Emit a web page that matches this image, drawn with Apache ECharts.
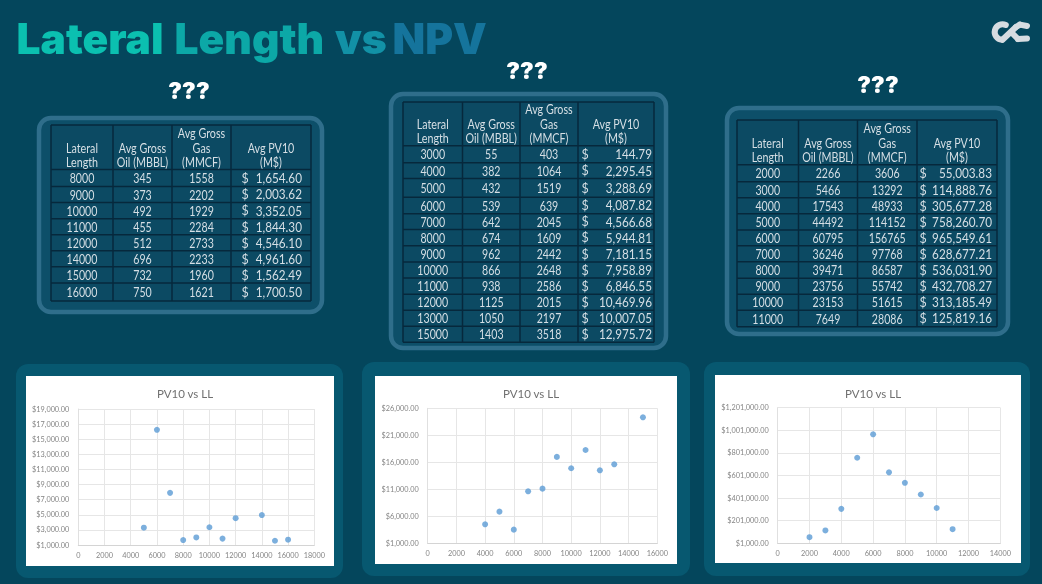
<!DOCTYPE html>
<html><head><meta charset="utf-8">
<style>html,body{margin:0;padding:0;background:#04465c;overflow:hidden}#c{width:1042px;height:584px;filter:blur(0.4px)}</style>
<script src="https://cdn.jsdelivr.net/npm/echarts@6/dist/echarts.min.js"></script>
</head><body><div id="c"></div>
<script>
// ---- data ----
const headers = [["Lateral","Length"],["Avg Gross","Oil (MBBL)"],["Avg Gross","Gas","(MMCF)"],["Avg PV10","(M$)"]];
const length1 = [8000,9000,10000,11000,12000,14000,15000,16000];
const oil1 = [345,373,492,455,512,696,732,750];
const gas1 = [1558,2202,1929,2284,2733,2233,1960,1621];
const pv1 = [1654.60,2003.62,3352.05,1844.30,4546.10,4961.60,1562.49,1700.50];
const length2 = [3000,4000,5000,6000,7000,8000,9000,10000,11000,12000,13000,15000];
const oil2 = [55,382,432,539,642,674,962,866,938,1125,1050,1403];
const gas2 = [403,1064,1519,639,2045,1609,2442,2648,2586,2015,2197,3518];
const pv2 = [144.79,2295.45,3288.69,4087.82,4566.68,5944.81,7181.15,7958.89,6846.55,10469.96,10007.05,12975.72];
const length3 = [2000,3000,4000,5000,6000,7000,8000,9000,10000,11000];
const oil3 = [2266,5466,17543,44492,60795,36246,39471,23756,23153,7649];
const gas3 = [3606,13292,48933,114152,156765,97768,86587,55742,51615,28086];
const pv3 = [55003.83,114888.76,305677.28,758260.70,965549.61,628677.21,536031.90,432708.27,313185.49,125819.16];

const scatterX1 = [5000,6000,7000,8000,9000,10000,11000,12000,14000,15000,16000];
const scatterY1 = [3290,16250,7900,1655,2004,3352,1844,4546,4962,1562,1700];
const scatterX2 = [4000,5000,6000,7000,8000,9000,10000,11000,12000,13000,15000];
const scatterY2 = [4520,6860,3530,10630,11120,17000,14900,18280,14520,15630,24330];
const scatterX3 = length3;
const scatterY3 = pv3;

const yTicks1 = [1000,3000,5000,7000,9000,11000,13000,15000,17000,19000];
const yTicks2 = [1000,6000,11000,16000,21000,26000];
const yTicks3 = [1000,201000,401000,601000,801000,1001000,1201000];
const xMax = [18000,16000,14000];
const chartTitle = "PV10 vs LL";
const titleWords = ["Lateral","Length","vs","NPV"];
const tableCaption = "???";

// ---- layout & style ----
const titleX = [16.5,174.5,335,392.5];
const titleColors = ['#0bc0b0','#0ca8a7','#1291a6','#15749c'];
const tableLayout = [
 {frame:[39,118,322,312], cols:[51,113,172,231,311], rows:[125,169.5,186.5,202.5,218.7,234.7,250.7,266.7,283,301], headY:[133.5,147.7,161.7], dollar:245, right:302, cap:[189,91]},
 {frame:[391,94,666,348], cols:[403,462.5,520,578,654], rows:[102,145.7,162.7,178.5,197.3,213.7,229.5,245.7,262,278,294.3,310.3,326.3,342.3], headY:[109.5,124,138.5], dollar:585, right:652, cap:[527,71]},
 {frame:[727,108,1008,334], cols:[737,798.5,857.5,917,997], rows:[120,164.7,181.7,197.7,213.7,230,245.7,261.7,278.3,294.3,310.3,326.7], headY:[128.5,143,157], dollar:923, right:992, cap:[878,85]}
];
const chartLayout = [
 {panel:[16,364,343,578], white:[26,376,334,566], plot:[78.3,409,314.3,545], tx:180, ty:389},
 {panel:[362,362,690,576], white:[375,376,677,564], plot:[427.7,408.3,657.3,543.3], tx:526, ty:389},
 {panel:[704,362,1030,576], white:[715,375,1021,563], plot:[777.7,407.7,1000.3,543.3], tx:868, ty:389}
];
const BG='#04465c', PANEL='#075870', CELL='#0d4f69', FRAME='#2f6e8b', LINE='#06283c', TXT='#d6dfe5';
const FONT='Lato';

const tableData = [[length1,oil1,gas1,pv1],[length2,oil2,gas2,pv2],[length3,oil3,gas3,pv3]];
const fmt = v => v.toLocaleString('en-US',{minimumFractionDigits:2,maximumFractionDigits:2});
const els = [];
const rectEl=(b,style,r,z)=>({type:'rect',z:z,shape:{x:b[0],y:b[1],width:b[2]-b[0],height:b[3]-b[1],r:r||0},style:style,silent:true});
const textEl=(x,y,t,align,size,fill,weight,family,sx)=>({type:'text',z:5,x:x,y:y,scaleX:sx||1,silent:true,style:{text:String(t),x:0,y:0,align:align,verticalAlign:'middle',fontSize:size,fontFamily:family||FONT,fontWeight:weight||'normal',fill:fill}});
const lineEl=(x1,y1,x2,y2,w)=>({type:'line',z:4,silent:true,shape:{x1,y1,x2,y2},style:{stroke:LINE,lineWidth:w||1.3}});

tableLayout.forEach((t,i)=>{
  const d=tableData[i];
  els.push(rectEl(t.frame,{fill:CELL,stroke:FRAME,lineWidth:4.5},12,-5));
  els.push(rectEl([t.cols[0],t.rows[0],t.cols[4],t.rows[t.rows.length-1]],{fill:'#0c4a63'},0,-4));
  t.cols.forEach(x=>els.push(lineEl(x,t.rows[0],x,t.rows[t.rows.length-1],1.5)));
  t.rows.forEach(y=>els.push(lineEl(t.cols[0],y,t.cols[4],y,1.5)));
  headers.forEach((h,c)=>{
    const cx=(t.cols[c]+t.cols[c+1])/2;
    const off=3-h.length;
    h.forEach((line,k)=>els.push(textEl(cx,t.headY[k+off],line,'center',12.5,TXT,'normal',FONT,0.86)));
  });
  d[0].forEach((_,r)=>{
    const cy=(t.rows[r+1]+t.rows[r+2])/2+0.3;
    for(let c=0;c<3;c++) els.push(textEl((t.cols[c]+t.cols[c+1])/2,cy,d[c][r],'center',12.5,TXT,'normal',FONT,0.85));
    els.push(textEl(t.dollar,cy,'$','center',12.5,TXT,'normal',FONT,1));
    els.push(textEl(t.right,cy,fmt(d[3][r]),'right',12.5,TXT,'normal',FONT,0.94));
  });
  els.push(textEl(t.cap[0],t.cap[1],tableCaption,'center',23,'#ffffff','900','Inter'));
});

chartLayout.forEach(c=>{
  els.push(rectEl(c.panel,{fill:PANEL},12,-5));
  els.push(rectEl(c.white,{fill:'#ffffff'},0,-4));
});

titleWords.forEach((w,i)=>els.push(textEl(titleX[i],38.5,w,'left',42.5,titleColors[i],'900','Inter')));

// logo
const logoStyle={stroke:'#d6dce1',fill:'none',lineWidth:6,lineCap:'round'};
const D=Math.PI/180;
els.push({type:'arc',z:5,silent:true,shape:{cx:1002.5,cy:32,r:7.8,startAngle:-65*D,endAngle:95*D,clockwise:false},style:logoStyle});
els.push({type:'line',z:5,silent:true,shape:{x1:1002.5,y1:39.8,x2:1016,y2:27},style:logoStyle});
els.push({type:'line',z:5,silent:true,shape:{x1:1016,y1:27,x2:1020,y2:24.6},style:logoStyle});
els.push({type:'line',z:5,silent:true,shape:{x1:1020,y1:24.6,x2:1027,y2:26},style:logoStyle});
els.push({type:'line',z:5,silent:true,shape:{x1:1013,y1:34,x2:1018,y2:39},style:logoStyle});
els.push({type:'line',z:5,silent:true,shape:{x1:1018,y1:39,x2:1027,y2:38.5},style:logoStyle});

const series=[[scatterX1,scatterY1],[scatterX2,scatterY2],[scatterX3,scatterY3]];
const yTicks=[yTicks1,yTicks2,yTicks3];
const axisLabelStyle={color:'#858585',fontSize:7.3,fontFamily:'Lato'};
const option={
  backgroundColor:BG,
  animation:false,
  graphic:{elements:els},
  title:chartLayout.map(c=>({text:chartTitle,left:c.tx,top:c.ty-7,textAlign:'center',textStyle:{color:'#707070',fontSize:11.5,fontWeight:'normal',fontFamily:'Lato'}})),
  grid:chartLayout.map(c=>({left:c.plot[0],top:c.plot[1],width:c.plot[2]-c.plot[0],height:c.plot[3]-c.plot[1],containLabel:false})),
  xAxis:chartLayout.map((c,i)=>({type:'value',gridIndex:i,min:0,max:xMax[i],interval:2000,
    axisLine:{show:true,onZero:false,lineStyle:{color:'#d4d4d4'}},axisTick:{show:false},
    axisLabel:{...axisLabelStyle,margin:7,showMinLabel:true,showMaxLabel:true,hideOverlap:false,formatter:v=>String(v)},
    splitLine:{show:true,lineStyle:{color:'#e6e6e6',width:1}}})),
  yAxis:chartLayout.map((c,i)=>({type:'value',gridIndex:i,min:yTicks[i][0],max:yTicks[i][yTicks[i].length-1],
    axisLine:{show:true,lineStyle:{color:'#e0e0e0'}},axisTick:{show:false,customValues:yTicks[i]},
    axisLabel:{...axisLabelStyle,margin:9,customValues:yTicks[i],formatter:v=>'$'+fmt(v)},
    splitLine:{show:true,lineStyle:{color:'#e6e6e6',width:1}}})),
  series:series.map((s,i)=>({type:'scatter',xAxisIndex:i,yAxisIndex:i,symbolSize:6,itemStyle:{color:'#5b9bd5'},silent:true,
    data:s[0].map((x,k)=>[x,s[1][k]])}))
};
echarts.init(document.getElementById('c'),null,{renderer:'svg'}).setOption(option);
</script></body></html>
